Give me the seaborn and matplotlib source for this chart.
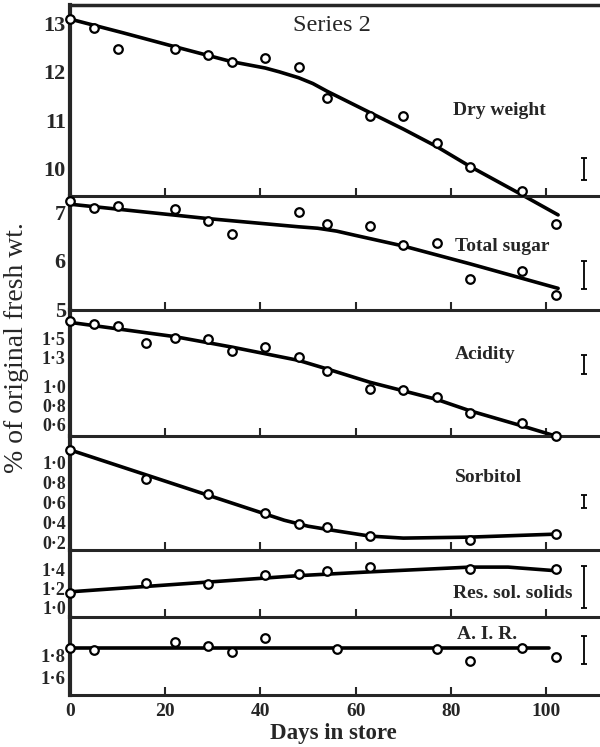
import matplotlib
matplotlib.use('Agg')
import matplotlib.pyplot as plt
import seaborn as sns

# ---- data ----
# Dry weight
dry_days = [0, 5, 10, 22, 29, 34, 41, 48, 54, 63, 70, 77, 84, 95, 102]
dry_vals = [13.09, 12.9, 12.47, 12.47, 12.35, 12.21, 12.29, 12.1, 11.47, 11.09, 11.09, 10.54, 10.04, 9.55, 8.87]
dry_curve_days = [0, 11, 22, 34, 41, 44, 48, 51, 54, 63, 70, 77, 84, 95, 102.5]
dry_curve_vals = [13.09, 12.81, 12.52, 12.21, 12.08, 12.0, 11.88, 11.76, 11.6, 11.16, 10.82, 10.46, 10.05, 9.46, 9.05]

# Total sugar
sug_days = [0, 5, 10, 22, 29, 34, 48, 54, 63, 70, 77, 84, 95, 102]
sug_vals = [7.24, 7.1, 7.14, 7.08, 6.84, 6.55, 7.02, 6.76, 6.73, 6.33, 6.37, 5.63, 5.8, 5.29]
sug_curve_days = [0, 29, 48, 52, 56, 60, 70, 84, 102.5]
sug_curve_vals = [7.18, 6.88, 6.71, 6.68, 6.62, 6.53, 6.31, 5.94, 5.43]

# Acidity
acid_days = [0, 5, 10, 16, 22, 29, 34, 41, 48, 54, 63, 70, 77, 84, 95, 102]
acid_vals = [1.68, 1.65, 1.63, 1.45, 1.51, 1.50, 1.37, 1.41, 1.31, 1.16, 0.97, 0.96, 0.89, 0.72, 0.61, 0.47]
acid_curve_days = [0, 22, 34, 48, 54, 63, 77, 84, 95, 102.3]
acid_curve_vals = [1.67, 1.52, 1.41, 1.27, 1.18, 1.04, 0.86, 0.74, 0.58, 0.47]

# Sorbitol
sorb_days = [0, 16, 29, 41, 48, 54, 63, 84, 102]
sorb_vals = [1.13, 0.84, 0.68, 0.49, 0.38, 0.35, 0.26, 0.22, 0.28]
sorb_curve_days = [0, 45, 50, 55, 63, 70, 84, 102]
sorb_curve_vals = [1.13, 0.42, 0.36, 0.32, 0.26, 0.24, 0.25, 0.28]

# Residual soluble solids
res_days = [0, 16, 29, 41, 48, 54, 63, 84, 102]
res_vals = [1.16, 1.26, 1.25, 1.35, 1.36, 1.39, 1.43, 1.41, 1.41]
res_curve_days = [0, 48, 63, 84, 92, 102.5]
res_curve_vals = [1.17, 1.34, 1.38, 1.43, 1.43, 1.39]

# A.I.R.
air_days = [0, 5, 22, 29, 34, 41, 56, 77, 84, 95, 102]
air_vals = [1.87, 1.85, 1.92, 1.89, 1.83, 1.96, 1.86, 1.86, 1.75, 1.87, 1.79]
air_curve_days = [0, 100.5]
air_curve_vals = [1.864, 1.864]

# error bars at the right of each panel (centre, half length)
err_centre = [10.0, 5.7, 1.23, 0.61, 1.22, 1.85]
err_half = [0.23, 0.29, 0.10, 0.066, 0.22, 0.13]

panel_ylims = [(9.44, 13.38), (4.98, 7.35), (0.475, 1.80), (0.12, 1.27), (0.905, 1.61), (1.44, 2.15)]
panel_ticks = [[13, 12, 11, 10], [7, 6, 5], [1.5, 1.3, 1.0, 0.8, 0.6],
               [1.0, 0.8, 0.6, 0.4, 0.2], [1.4, 1.2, 1.0], [1.8, 1.6]]
panel_names = ['Dry weight', 'Total sugar', 'Acidity', 'Sorbitol', 'Res. sol. solids', 'A. I. R.']
x_ticks = [0, 20, 40, 60, 80, 100]

sns.set_style('white')
plt.rcParams['font.family'] = ['Liberation Serif', 'DejaVu Serif']

fig = plt.figure(figsize=(6, 7.47), dpi=100)

# panel boxes in pixel rows (top, bottom)
rows = [(5, 196), (196, 310), (310, 436), (436, 550), (550, 617), (617, 695)]
H = 747.0
left = 70 / 600.0

series = [
    (dry_days, dry_vals, dry_curve_days, dry_curve_vals),
    (sug_days, sug_vals, sug_curve_days, sug_curve_vals),
    (acid_days, acid_vals, acid_curve_days, acid_curve_vals),
    (sorb_days, sorb_vals, sorb_curve_days, sorb_curve_vals),
    (res_days, res_vals, res_curve_days, res_curve_vals),
    (air_days, air_vals, air_curve_days, air_curve_vals),
]
label_pos = [(0.811, 0.45), (0.815, 0.553), (0.783, 0.643), (0.789, 0.632), (0.836, 0.358), (0.787, 0.782)]
tick_size = [16, 16, 13, 13, 13, 13.5]

axes = []
for i, (top, bot) in enumerate(rows):
    ax = fig.add_axes([left, 1 - bot / H, 1 - left, (bot - top) / H])
    ax.set_facecolor('none')
    axes.append(ax)
    d, v, cd, cv = series[i]
    sns.lineplot(x=cd, y=cv, ax=ax, color='black', lw=2.6, clip_on=False, zorder=2)
    sns.scatterplot(x=d, y=v, ax=ax, marker='o', s=38, color='white', edgecolor='black',
                    linewidth=1.6, clip_on=False, zorder=3)
    ax.errorbar([108], [err_centre[i]], yerr=[err_half[i]], color='black', lw=1.3,
                capsize=2.5, capthick=1.3, clip_on=False)
    ax.set_xlim(0, 111.3)
    ax.set_ylim(*panel_ylims[i])
    ax.set_yticks(panel_ticks[i])
    ax.set_yticklabels([('%g' % t if t >= 2 else ('%.1f' % t).replace('.', '\u00b7'))
                        for t in panel_ticks[i]], fontsize=tick_size[i], fontweight='bold')
    ax.set_xticks(x_ticks)
    ax.tick_params(axis='y', direction='in', length=9, width=2, pad=3)
    ax.tick_params(axis='x', direction='in', length=6, width=1.5, top=False, bottom=True)
    if i < 5:
        ax.set_xticklabels([])
    ax.spines['right'].set_visible(False)
    ax.spines['top'].set_visible(i == 0)
    ax.spines['top'].set_linewidth(2.5)
    ax.spines['left'].set_linewidth(3)
    ax.spines['bottom'].set_linewidth(2.2)
    ax.set_xlabel('')
    ax.set_ylabel('')
    ax.text(label_pos[i][0], label_pos[i][1], panel_names[i], transform=ax.transAxes,
            ha='center', va='center', fontsize=14, fontweight='bold')

axes[0].text(0.494, 0.895, 'Series 2', transform=axes[0].transAxes, ha='center', va='center',
             fontsize=17.5)
axes[5].set_xticklabels([str(t) for t in x_ticks], fontsize=14, fontweight='bold')
axes[5].tick_params(axis='x', pad=6)

fig.text(0.555, 0.018, 'Days in store', ha='center', va='center', fontsize=16.5, fontweight='bold')
fig.text(0.028, 0.535, '% of original fresh wt.', ha='center', va='center', rotation=90,
         fontsize=20)

fig.savefig('out.png', dpi=100)
